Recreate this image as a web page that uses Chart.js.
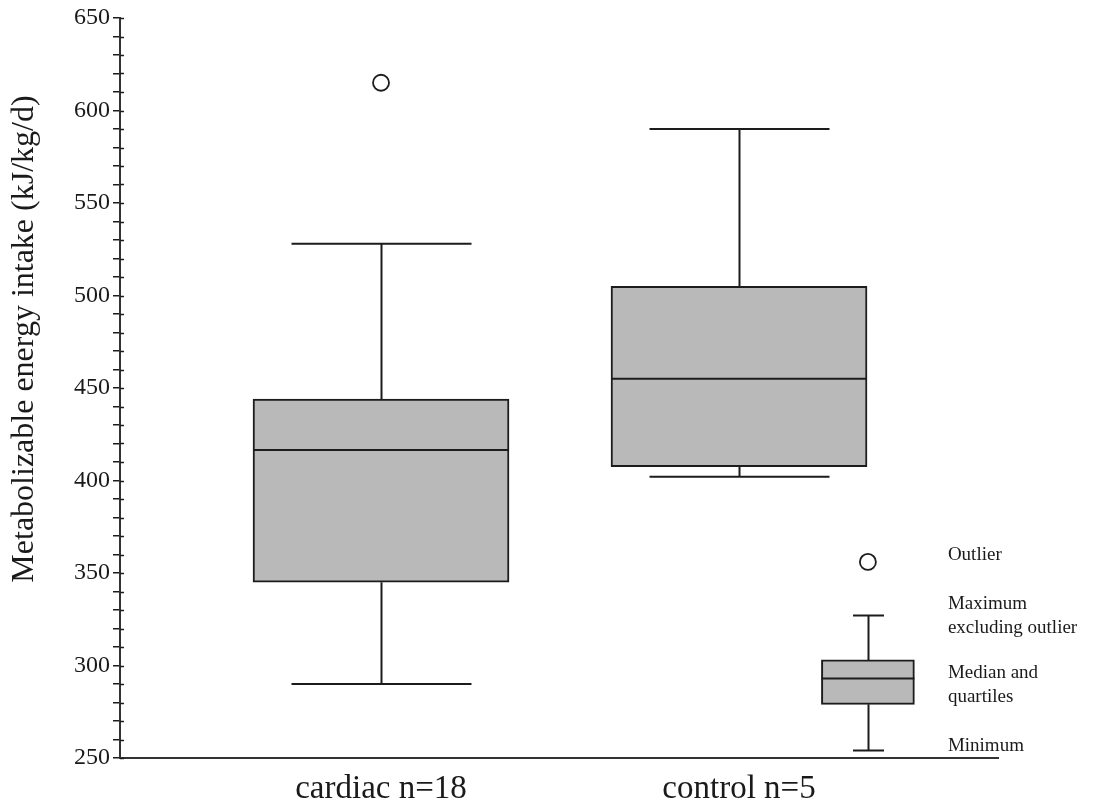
<!DOCTYPE html>
<html>
<head>
<meta charset="utf-8">
<script src="https://cdn.jsdelivr.net/npm/chart.js@4.4.1/dist/chart.umd.min.js"></script>
<style>
  html, body { margin: 0; padding: 0; background: #fff; }
  #wrap { width: 1101px; height: 808px; }
</style>
</head>
<body>
<div id="wrap"><canvas id="c" width="1101" height="808"></canvas></div>
<script>
// Metabolizable energy intake (kJ/kg/d) per group
const groups = ['cardiac n=18', 'control n=5'];
const minimum = [290, 402];
const lowerQuartile = [345, 407.5];
const median = [416.5, 455];
const upperQuartile = [444, 505];
const maximum = [528, 590];
const outliers = [615, null];

// explanatory key box: min, Q1, median, Q3, max, outlier
const keyStats = [254, 279, 293, 303, 327];
const keyOutlier = 356;
const keyCaptions = [
  ['Outlier'],
  ['Maximum', 'excluding outlier'],
  ['Median and', 'quartiles'],
  ['Minimum']
];

const yTickLabels = [250, 300, 350, 400, 450, 500, 550, 600, 650];

const KEY_X = 2.36;
const INK = '#1c1c1c';
const FILL = '#b9b9b9';
const SERIF = "'Liberation Serif', 'Times New Roman', serif";

const boxes = groups.map((g, i) => ({
  x: i + 1, min: minimum[i], q1: lowerQuartile[i], med: median[i], q3: upperQuartile[i], max: maximum[i], cap: 180
}));
const keyBox = { x: KEY_X, min: keyStats[0], q1: keyStats[1], med: keyStats[2], q3: keyStats[3], max: keyStats[4], cap: 31 };

const boxPlotPlugin = {
  id: 'boxPlot',
  beforeDatasetsDraw(chart) {
    const { ctx, scales: { x, y } } = chart;
    ctx.save();
    ctx.strokeStyle = INK;
    ctx.lineWidth = 2;
    [...boxes, keyBox].forEach(b => {
      const px = Math.round(x.getPixelForValue(b.x)) + 0.5;
      const pMax = y.getPixelForValue(b.max), pMin = y.getPixelForValue(b.min);
      const pQ3 = y.getPixelForValue(b.q3), pQ1 = y.getPixelForValue(b.q1);
      ctx.beginPath();
      ctx.moveTo(px, pQ3); ctx.lineTo(px, pMax);
      ctx.moveTo(px - b.cap / 2, pMax); ctx.lineTo(px + b.cap / 2, pMax);
      ctx.moveTo(px, pQ1); ctx.lineTo(px, pMin);
      ctx.moveTo(px - b.cap / 2, pMin); ctx.lineTo(px + b.cap / 2, pMin);
      ctx.stroke();
    });
    ctx.restore();
  },
  afterDatasetsDraw(chart) {
    const { ctx, scales: { y } } = chart;
    ctx.save();
    ctx.strokeStyle = INK;
    ctx.lineWidth = 2;
    const draw = (el, value) => {
      const py = y.getPixelForValue(value);
      ctx.beginPath();
      ctx.moveTo(el.x - el.width / 2, py);
      ctx.lineTo(el.x + el.width / 2, py);
      ctx.stroke();
    };
    chart.getDatasetMeta(0).data.forEach((el, i) => draw(el, boxes[i].med));
    draw(chart.getDatasetMeta(1).data[0], keyBox.med);
    ctx.restore();
  },
  afterDraw(chart) {
    const { ctx, scales: { x, y } } = chart;
    ctx.save();
    // tick marks crossing the axis line
    ctx.strokeStyle = INK;
    ctx.lineWidth = 1.5;
    y.ticks.forEach(t => {
      const py = Math.round(y.getPixelForValue(t.value)) + 0.5;
      ctx.beginPath();
      ctx.moveTo(y.right, py);
      ctx.lineTo(y.right + 4, py);
      ctx.stroke();
    });
    // vertical axis title
    ctx.fillStyle = '#1a1a1a';
    ctx.font = '32px ' + SERIF;
    ctx.translate(33, 339);
    ctx.rotate(-Math.PI / 2);
    ctx.textAlign = 'center';
    ctx.textBaseline = 'alphabetic';
    ctx.fillText('Metabolizable energy intake (kJ/kg/d)', 0, 0);
    ctx.restore();

    // key captions
    ctx.save();
    ctx.fillStyle = '#1a1a1a';
    ctx.font = '19px ' + SERIF;
    ctx.textAlign = 'left';
    ctx.textBaseline = 'middle';
    const tx = x.getPixelForValue(KEY_X) + 80;
    const anchors = [
      y.getPixelForValue(keyOutlier) - 7,
      y.getPixelForValue(keyBox.max),
      (y.getPixelForValue(keyBox.q1) + y.getPixelForValue(keyBox.q3)) / 2 + 3,
      y.getPixelForValue(keyBox.min) - 5
    ];
    keyCaptions.forEach((lines, i) => {
      const top = anchors[i] - (lines.length - 1) * 12;
      lines.forEach((s, j) => ctx.fillText(s, tx, top + j * 24));
    });
    ctx.restore();
  }
};

new Chart(document.getElementById('c'), {
  type: 'bar',
  data: {
    datasets: [
      {
        data: boxes.map(b => ({ x: b.x, y: [b.q1, b.q3] })),
        backgroundColor: FILL,
        borderColor: INK,
        borderWidth: 2,
        borderSkipped: false,
        barThickness: 256,
        grouped: false,
        order: 2
      },
      {
        data: [{ x: KEY_X, y: [keyBox.q1, keyBox.q3] }],
        backgroundColor: FILL,
        borderColor: INK,
        borderWidth: 2,
        borderSkipped: false,
        barThickness: 93,
        grouped: false,
        order: 2
      },
      {
        type: 'scatter',
        data: [
          ...outliers.map((v, i) => v == null ? null : { x: i + 1, y: v }).filter(Boolean),
          { x: KEY_X, y: keyOutlier }
        ],
        pointRadius: 8,
        pointBorderWidth: 1.8,
        pointBackgroundColor: '#ffffff',
        pointBorderColor: INK,
        order: 1
      }
    ]
  },
  options: {
    responsive: false,
    animation: false,
    devicePixelRatio: 1,
    layout: { padding: { top: 18, right: 103, left: 0, bottom: 0 } },
    plugins: { legend: { display: false }, tooltip: { enabled: false } },
    scales: {
      x: {
        type: 'linear',
        offset: false,
        bounds: 'data',
        min: 0.2709,
        max: 2.7234,
        afterBuildTicks: s => { s.ticks = groups.map((g, i) => ({ value: i + 1 })); },
        afterFit: s => { s.height = 50; },
        ticks: {
          callback: (v, i) => groups[i],
          font: { family: SERIF, size: 33 },
          color: '#1a1a1a',
          padding: 4,
          maxRotation: 0,
          autoSkip: false
        },
        grid: { display: false, offset: false },
        border: { display: true, color: '#333', width: 2 }
      },
      y: {
        min: 250,
        max: 650,
        afterFit: s => { s.width = 120; },
        ticks: {
          stepSize: 10,
          autoSkip: false,
          callback: v => yTickLabels.includes(v) ? String(v) : '',
          font: { family: SERIF, size: 24 },
          color: '#1a1a1a',
          padding: 3
        },
        grid: { display: true, drawOnChartArea: false, drawTicks: true, tickLength: 7, color: INK, lineWidth: 1.5 },
        border: { display: true, color: '#333', width: 2 }
      }
    }
  },
  plugins: [boxPlotPlugin]
});
</script>
</body>
</html>
